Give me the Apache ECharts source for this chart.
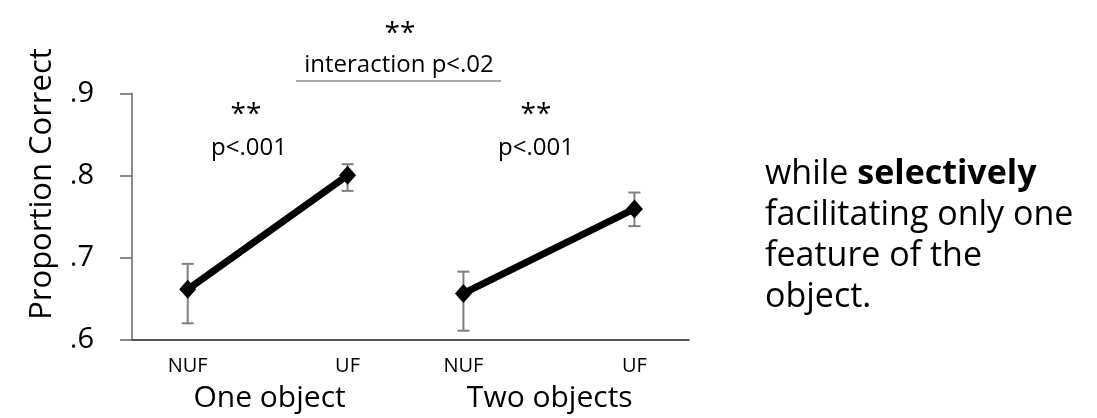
<!DOCTYPE html>
<html>
<head>
<meta charset="utf-8">
<script src="https://cdn.jsdelivr.net/npm/echarts@6/dist/echarts.min.js"></script>
<style>
  html, body { margin: 0; padding: 0; background: #fff; }
  #chart { width: 1097px; height: 418px; }
</style>
</head>
<body>
<div id="chart"></div>
<script>
const categories = ["NUF", "UF", "NUF", "UF"];
const catPos = [1, 3.87, 5.95, 9.02];
const groups = ["One object", "Two objects"];
const groupPos = [2.47, 7.5];
const oneObject = [0.661, 0.800];
const twoObjects = [0.656, 0.759];
const oneErrLow = [0.6195, 0.781];
const oneErrHigh = [0.692, 0.8135];
const twoErrLow = [0.6105, 0.738];
const twoErrHigh = [0.6825, 0.779];

const font = "'Open Sans', sans-serif";
const chart = echarts.init(document.getElementById("chart"));

const lineData = (vals, offset) => vals.map((v, i) => [catPos[offset + i], v]);
const errData = (lo, hi, offset) => lo.map((v, i) => [catPos[offset + i], v, hi[i]]);

const errorSeries = (data) => ({
  type: "custom",
  data: data,
  z: 1,
  renderItem: (params, api) => {
    const x = api.value(0);
    const lo = api.coord([x, api.value(1)]);
    const hi = api.coord([x, api.value(2)]);
    const cap = 6;
    const style = { stroke: "#7f7f7f", lineWidth: 2 };
    return {
      type: "group",
      children: [
        { type: "line", shape: { x1: lo[0], y1: lo[1], x2: hi[0], y2: hi[1] }, style },
        { type: "line", shape: { x1: lo[0] - cap, y1: lo[1], x2: lo[0] + cap, y2: lo[1] }, style },
        { type: "line", shape: { x1: hi[0] - cap, y1: hi[1], x2: hi[0] + cap, y2: hi[1] }, style },
      ],
    };
  },
});

const meanSeries = (data) => ({
  type: "line",
  data: data,
  z: 3,
  symbol: "diamond",
  symbolSize: [17, 19],
  lineStyle: { color: "#000", width: 7 },
  itemStyle: { color: "#000" },
  animation: false,
});

const txt = (text, x, y, size) => ({
  type: "text",
  x: x,
  y: y,
  style: { text: text, font: `${size}px ${font}`, fill: "#000", align: "center", verticalAlign: "middle" },
});

chart.setOption({
  animation: false,
  grid: { left: 132, right: 408, top: 93.3, bottom: 78.7 },
  xAxis: [
    {
      type: "value",
      min: 0,
      max: 10,
      axisLine: { show: true, onZero: false, lineStyle: { color: "#222", width: 1.5 } },
      axisTick: { show: false },
      splitLine: { show: false },
      axisLabel: {
        customValues: catPos,
        formatter: (v) => categories[catPos.indexOf(v)] ?? "",
        color: "#000",
        fontFamily: font,
        fontSize: 20,
        margin: 17,
      },
    },
    {
      type: "value",
      position: "bottom",
      offset: 40,
      min: 0,
      max: 10,
      axisLine: { show: false },
      axisTick: { show: false },
      splitLine: { show: false },
      axisLabel: {
        customValues: groupPos,
        formatter: (v) => groups[groupPos.indexOf(v)] ?? "",
        color: "#000",
        fontFamily: font,
        fontSize: 30,
        margin: 4,
      },
    },
  ],
  yAxis: {
    type: "value",
    min: 0.6,
    max: 0.9,
    interval: 0.1,
    axisLine: { show: true, lineStyle: { color: "#666", width: 1.5 } },
    axisTick: { show: true, length: 12, lineStyle: { color: "#666", width: 1.5 } },
    splitLine: { show: false },
    axisLabel: {
      formatter: (v) => "." + Math.round(v * 10),
      color: "#000",
      fontFamily: font,
      fontSize: 29,
      margin: 38,
    },
  },
  series: [
    errorSeries(errData(oneErrLow, oneErrHigh, 0)),
    errorSeries(errData(twoErrLow, twoErrHigh, 2)),
    meanSeries(lineData(oneObject, 0)),
    meanSeries(lineData(twoObjects, 2)),
  ],
  graphic: [
    {
      type: "text",
      x: 42,
      y: 184,
      rotation: Math.PI / 2,
      style: { text: "Proportion Correct", font: `31px ${font}`, fill: "#000", align: "center", verticalAlign: "middle" },
    },
    txt("**", 400, 34, 28),
    txt("interaction p<.02", 399, 65, 24),
    { type: "line", shape: { x1: 296, y1: 81, x2: 501, y2: 81 }, style: { stroke: "#8c8c8c", lineWidth: 1.5 } },
    txt("**", 246, 115, 28),
    txt("p<.001", 249, 148, 24),
    txt("**", 536, 115, 28),
    txt("p<.001", 536, 148, 24),
    {
      type: "text",
      x: 765,
      y: 154,
      style: {
        text: "{n|while }{b|selectively}\n{n|facilitating only one}\n{n|feature of the}\n{n|object.}",
        rich: {
          n: { font: `34px ${font}`, fill: "#000", lineHeight: 41 },
          b: { font: `bold 34px ${font}`, fill: "#000", lineHeight: 41 },
        },
      },
    },
  ],
});
</script>
</body>
</html>
